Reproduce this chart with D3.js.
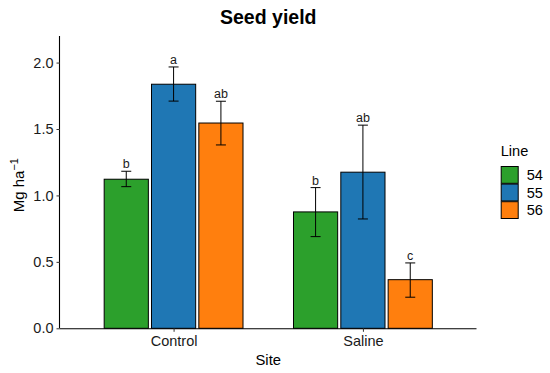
<!DOCTYPE html>
<html>
<head>
<meta charset="utf-8">
<script src="https://cdn.jsdelivr.net/npm/d3@7"></script>
<style>
  body { margin: 0; background: #fff; }
  text { font-family: "Liberation Sans", Arial, sans-serif; }
</style>
</head>
<body>
<div id="canvas"></div>
<script>
// data
var sites = ['Control', 'Saline'];
var lines = ['54', '55', '56'];
var means = [[1.122, 1.837, 1.545], [0.876, 1.175, 0.366]];
var errLow = [[1.066, 1.71, 1.38], [0.69, 0.823, 0.234]];
var errHigh = [[1.182, 1.967, 1.709], [1.059, 1.529, 0.492]];
var letters = [['b', 'a', 'ab'], ['b', 'ab', 'c']];
var colours = ['#2ca02c', '#1f77b4', '#ff7f0e'];
var yTicks = [0, 0.5, 1.0, 1.5, 2.0];

var W = 550, H = 373;
var m = {t:36, r:73.5, b:44.7, l:60};
var w = W - m.l - m.r, h = H - m.t - m.b;

var svg = d3.select('#canvas').append('svg')
    .attr('width', W).attr('height', H);

var plot = svg.append('g')
    .attr('transform', 'translate(' + m.l + ',' + m.t + ')');

var scaleY = d3.scaleLinear().domain([0, 2.2]).range([h, 0]);

// discrete axis with 0.6 expansion each side, like ggplot
var scaleX = d3.scalePoint().domain(sites).range([w * 0.6 / 2.2, w * 1.6 / 2.2]);
var unit = w / 2.2;
var scaleDodge = d3.scaleBand().domain(lines).range([-0.375 * unit, 0.375 * unit]);
var barW = 0.7 / 3 * unit;

var rows = [];
sites.forEach(function(s, i){
  lines.forEach(function(l, j){
    rows.push({site:s, line:l, mean:means[i][j], lo:errLow[i][j], hi:errHigh[i][j], letter:letters[i][j], col:colours[j]});
  });
});

var cx = function(d){ return scaleX(d.site) + scaleDodge(d.line) + scaleDodge.bandwidth() / 2; };

plot.selectAll('rect.bar').data(rows).enter().append('rect')
  .attr('class', 'bar')
  .attr('x', function(d){ return cx(d) - barW / 2; })
  .attr('y', function(d){ return scaleY(d.mean); })
  .attr('width', barW)
  .attr('height', function(d){ return scaleY(0) - scaleY(d.mean); })
  .attr('fill', function(d){ return d.col; })
  .attr('stroke', '#000').attr('stroke-width', 1);

// error bars
var eb = plot.selectAll('g.err').data(rows).enter().append('g').attr('class', 'err')
  .attr('stroke', '#000').attr('stroke-width', 1);
eb.append('line')
  .attr('x1', cx).attr('x2', cx)
  .attr('y1', function(d){ return scaleY(d.lo); })
  .attr('y2', function(d){ return scaleY(d.hi); });
[ 'lo', 'hi' ].forEach(function(k){
  eb.append('line')
    .attr('x1', function(d){ return cx(d) - 5; })
    .attr('x2', function(d){ return cx(d) + 5; })
    .attr('y1', function(d){ return scaleY(d[k]); })
    .attr('y2', function(d){ return scaleY(d[k]); });
});

plot.selectAll('text.letter').data(rows).enter().append('text')
  .attr('class', 'letter')
  .attr('x', cx)
  .attr('y', function(d){ return scaleY(d.hi) - 3; })
  .attr('text-anchor', 'middle')
  .attr('font-size', 12.5)
  .attr('fill', '#1a1a1a')
  .text(function(d){ return d.letter; });

// axes
var axisY = d3.axisLeft(scaleY).tickValues(yTicks).tickFormat(d3.format('.1f')).tickSize(3.5).tickPadding(3);
var axisX = d3.axisBottom(scaleX).tickSize(3.5).tickPadding(4);

var gy = plot.append('g').call(axisY);
var gx = plot.append('g').attr('transform', 'translate(0,' + h + ')').call(axisX);
[gy, gx].forEach(function(g){
  g.select('.domain').attr('stroke', '#000').attr('stroke-width', 1.1);
  g.selectAll('.tick line').attr('stroke', '#333');
  g.selectAll('.tick text').attr('font-size', 14.5).attr('fill', '#1a1a1a')
    .attr('font-family', '"Liberation Sans", Arial, sans-serif');
});
gx.select('.domain').attr('d', 'M0,0.5H' + w);
gy.select('.domain').attr('d', 'M-0.5,0V' + h);

// titles
svg.append('text')
  .attr('x', m.l + w / 2).attr('y', 24)
  .attr('text-anchor', 'middle')
  .attr('font-size', 19.5).attr('font-weight', 'bold')
  .text('Seed yield');

svg.append('text')
  .attr('x', m.l + w / 2).attr('y', 365)
  .attr('text-anchor', 'middle')
  .attr('font-size', 14.8)
  .text('Site');

var yl = svg.append('text')
  .attr('transform', 'translate(23.5,' + (m.t + h / 2 + 3) + ') rotate(-90)')
  .attr('text-anchor', 'middle')
  .attr('font-size', 15);
yl.append('tspan').text('Mg ha');
yl.append('tspan').attr('dy', -6).attr('font-size', 11).text('\u22121');

// legend
var leg = svg.append('g').attr('transform', 'translate(500.7,0)');
leg.append('text').attr('x', 0).attr('y', 156).attr('font-size', 14.6).text('Line');
var keys = leg.selectAll('g.key').data(lines).enter().append('g').attr('class', 'key')
  .attr('transform', function(d, i){ return 'translate(0,' + (166 + i * 17.6) + ')'; });
keys.append('rect')
  .attr('x', 0.5).attr('y', 0.5)
  .attr('width', 17).attr('height', 16.8)
  .attr('fill', function(d, i){ return colours[i]; })
  .attr('stroke', '#000').attr('stroke-width', 1);
keys.append('text')
  .attr('x', 26).attr('y', 14)
  .attr('font-size', 14.6)
  .text(function(d){ return d; });
</script>
</body>
</html>
